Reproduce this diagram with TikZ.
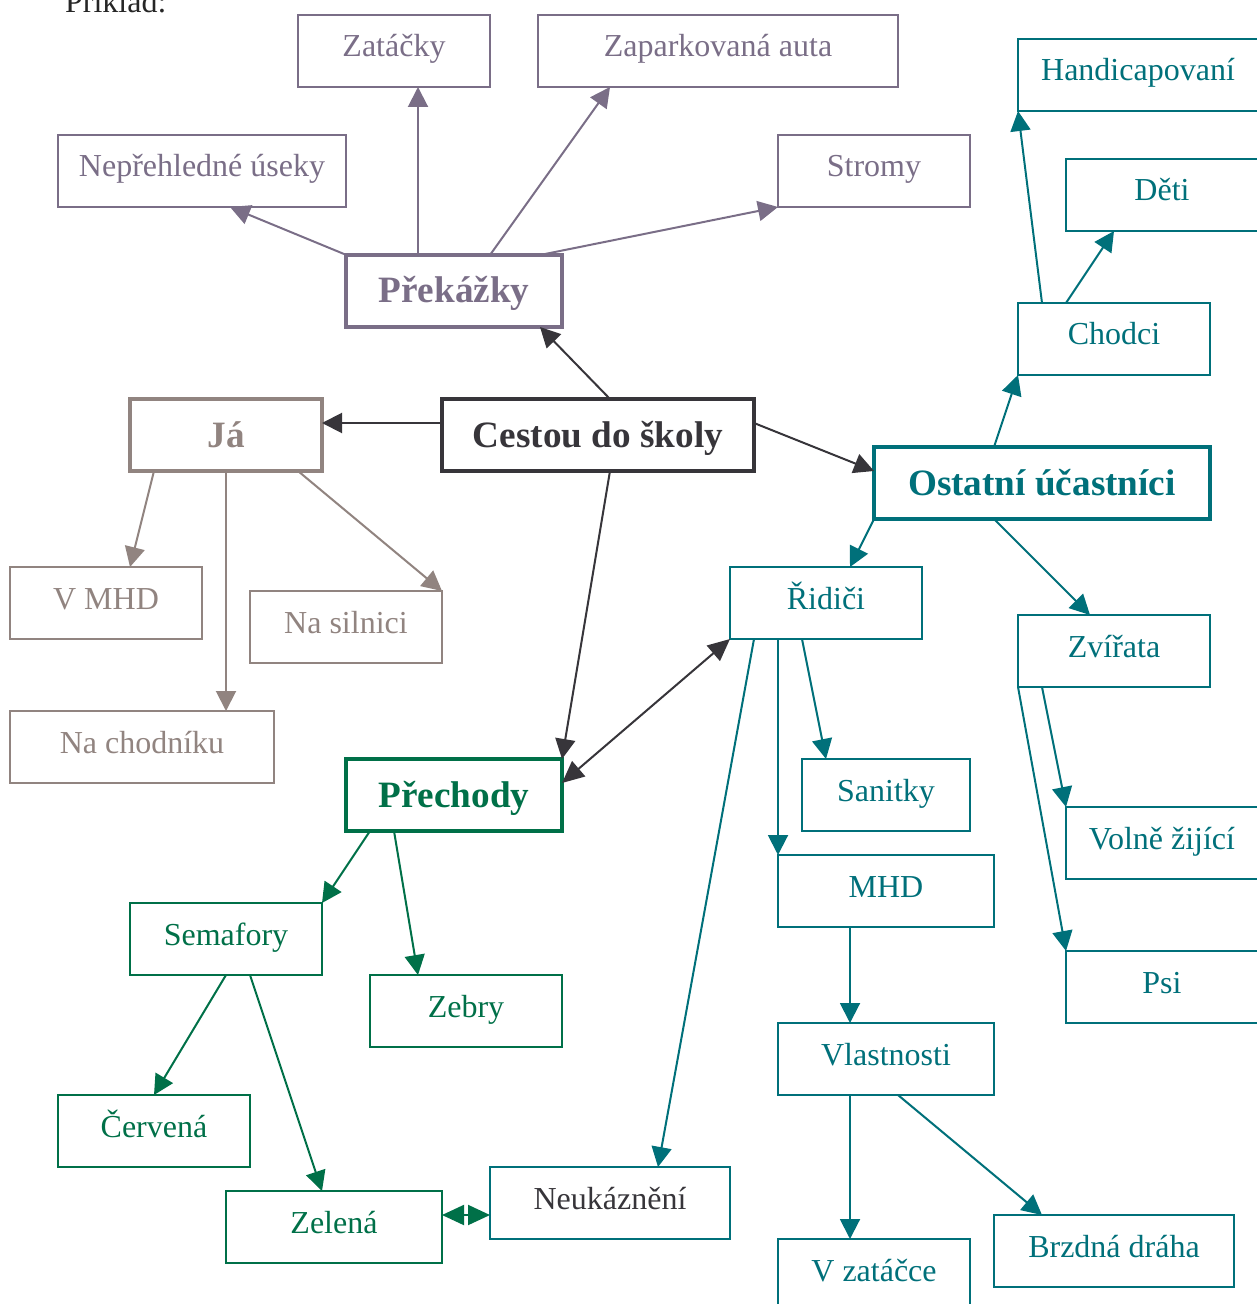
\documentclass[tikz,border=0pt]{standalone}
\usepackage{fontspec}
\setmainfont{Liberation Serif}
\usetikzlibrary{arrows.meta,calc}
\definecolor{cprek}{RGB}{122,110,135}
\definecolor{cja}{RGB}{145,132,128}
\definecolor{cdark}{RGB}{55,53,58}
\definecolor{cteal}{RGB}{0,112,122}
\definecolor{cgreen}{RGB}{0,112,72}
\begin{document}
\begin{tikzpicture}[x=0.5pt,y=-0.5pt,
  box/.style={draw, rectangle, line width=0.9pt, minimum height=36pt, inner sep=0pt, outer sep=0pt,
    text height=11pt, text depth=5pt, font=\fontsize{16pt}{19pt}\selectfont},
  bbox/.style={draw, rectangle, line width=2pt, minimum height=36pt, inner sep=0pt, outer sep=0pt,
    text height=14pt, text depth=2pt, font=\fontsize{18.6pt}{22pt}\selectfont\bfseries},
  gp/.style={draw=cprek, text=cprek},
  gj/.style={draw=cja, text=cja},
  gd/.style={draw=cdark, text=cdark},
  gt/.style={draw=cteal, text=cteal},
  gg/.style={draw=cgreen, text=cgreen},
  conn/.style={line width=1pt, -{Triangle[length=10pt,width=10pt]}},
  dconn/.style={line width=1pt, {Triangle[length=11pt,width=10pt]}-{Triangle[length=11pt,width=10pt]}},
]
\useasboundingbox (0,0) rectangle (1256,1304);

\node[anchor=base west, font=\fontsize{16pt}{19pt}\selectfont, text=black!85] (prik) at (58,13) {Příklad:};

% Prekazky group
\node[box,gp,minimum width=96pt] (zat) at (394,51) {Zatáčky};
\node[box,gp,minimum width=180pt] (zap) at (718,51) {Zaparkovaná auta};
\node[box,gp,minimum width=144pt] (nep) at (202,171) {Nepřehledné úseky};
\node[box,gp,minimum width=96pt] (strom) at (874,171) {Stromy};
\node[bbox,gp,minimum width=108pt] (prek) at (454,291) {Překážky};

% center
\node[bbox,gd,minimum width=156pt] (ces) at (598,435) {Cestou do školy};

% Ja group
\node[bbox,gj,minimum width=96pt] (ja) at (226,435) {Já};
\node[box,gj,minimum width=96pt] (vmhd) at (106,603) {V MHD};
\node[box,gj,minimum width=96pt] (sil) at (346,627) {Na silnici};
\node[box,gj,minimum width=132pt] (chod) at (142,747) {Na chodníku};

% Ostatni group
\node[bbox,gt,minimum width=168pt] (ost) at (1042,483) {Ostatní účastníci};
\node[box,gt,minimum width=120pt] (hand) at (1138,75) {Handicapovaní};
\node[box,gt,minimum width=96pt] (deti) at (1162,195) {Děti};
\node[box,gt,minimum width=96pt] (chodci) at (1114,339) {Chodci};
\node[box,gt,minimum width=96pt] (rid) at (826,603) {Řidiči};
\node[box,gt,minimum width=96pt] (zvir) at (1114,651) {Zvířata};
\node[box,gt,minimum width=84pt] (san) at (886,795) {Sanitky};
\node[box,gt,minimum width=108pt] (mhd) at (886,891) {MHD};
\node[box,gt,minimum width=96pt] (volne) at (1162,843) {Volně žijící};
\node[box,gt,minimum width=96pt] (psi) at (1162,987) {Psi};
\node[box,gt,minimum width=108pt] (vlast) at (886,1059) {Vlastnosti};
\node[box,gt,minimum width=96pt] (vzat) at (874,1275) {V zatáčce};
\node[box,gt,minimum width=120pt] (brzd) at (1114,1251) {Brzdná dráha};
\node[box,draw=cteal,text=cdark,minimum width=120pt] (neuk) at (610,1203) {Neukáznění};

% Prechody group
\node[bbox,gg,minimum width=108pt] (prech) at (454,795) {Přechody};
\node[box,gg,minimum width=96pt] (sem) at (226,939) {Semafory};
\node[box,gg,minimum width=96pt] (zebry) at (466,1011) {Zebry};
\node[box,gg,minimum width=96pt] (cerv) at (154,1131) {Červená};
\node[box,gg,minimum width=108pt] (zel) at (334,1227) {Zelená};

% connectors: Prekazky
\begin{scope}[cprek]
\draw[conn] ($(prek.north west)+(72,0)$) -- ($(zat.south west)+(120,0)$);
\draw[conn] ($(prek.north west)+(144,0)$) -- ($(zap.south west)+(72,0)$);
\draw[conn] ($(prek.north west)+(-2,-1)$) -- ($(nep.south west)+(172,0)$);
\draw[conn] ($(prek.north west)+(199,-1)$) -- (strom.south west);
\end{scope}

% connectors: center
\begin{scope}[cdark]
\draw[conn] ($(ces.north west)+(168,0)$) -- ($(prek.south east)+(-22,0)$);
\draw[conn] ($(ces.north west)+(0,24)$) -- ($(ja.north east)+(0,24)$);
\draw[conn] ($(ces.north east)+(0,24)$) -- ($(ost.north west)+(0,24)$);
\draw[conn] ($(ces.south west)+(168,0)$) -- (prech.north east);
\draw[dconn] (rid.south west) -- ($(prech.north east)+(0,24)$);
\end{scope}

% connectors: Ja
\begin{scope}[cja]
\draw[conn] ($(ja.south west)+(24,0)$) -- ($(vmhd.north west)+(120,0)$);
\draw[conn] (ja.south) -- ($(chod.north west)+(216,0)$);
\draw[conn] ($(ja.south west)+(168,0)$) -- (sil.north east);
\end{scope}

% connectors: Ostatni
\begin{scope}[cteal]
\draw[conn] ($(ost.north west)+(120,0)$) -- (chodci.south west);
\draw[conn] ($(chodci.north west)+(24,0)$) -- (hand.south west);
\draw[conn] ($(chodci.north west)+(48,0)$) -- ($(deti.south west)+(48,0)$);
\draw[conn] (ost.south west) -- ($(rid.north west)+(120,0)$);
\draw[conn] ($(ost.south west)+(120,0)$) -- ($(zvir.north west)+(72,0)$);
\draw[conn] ($(zvir.south west)+(24,0)$) -- (volne.north west);
\draw[conn] (zvir.south west) -- (psi.north west);
\draw[conn] ($(rid.south west)+(72,0)$) -- ($(san.north west)+(24,0)$);
\draw[conn] ($(rid.south west)+(48,0)$) -- (mhd.north west);
\draw[conn] ($(rid.south west)+(24,0)$) -- ($(neuk.north west)+(168,0)$);
\draw[conn] ($(mhd.south west)+(72,0)$) -- ($(vlast.north west)+(72,0)$);
\draw[conn] ($(vlast.south west)+(72,0)$) -- ($(vzat.north west)+(72,0)$);
\draw[conn] ($(vlast.south west)+(120,0)$) -- ($(brzd.north west)+(48,0)$);
\end{scope}

% connectors: Prechody
\begin{scope}[cgreen]
\draw[conn] ($(prech.south west)+(24,0)$) -- (sem.north east);
\draw[conn] ($(prech.south west)+(48,0)$) -- ($(zebry.north west)+(48,0)$);
\draw[conn] ($(sem.south west)+(96,0)$) -- ($(cerv.north west)+(96,0)$);
\draw[conn] ($(sem.south west)+(120,0)$) -- ($(zel.north west)+(96,0)$);
\draw[dconn] ($(zel.north east)+(0,24)$) -- ($(neuk.north west)+(0,48)$);
\end{scope}
\end{tikzpicture}
\end{document}
